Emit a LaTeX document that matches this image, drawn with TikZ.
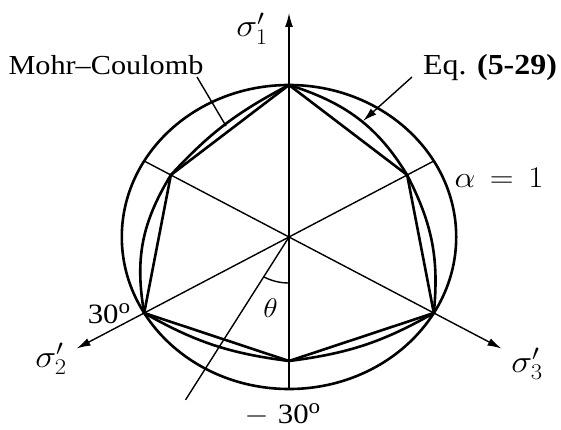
\RequirePackage{fix-cm}
\documentclass[tikz,border=0pt]{standalone}
\usepackage{fontspec}
\setmainfont{Liberation Serif}
\usetikzlibrary{arrows.meta}
\begin{document}
\begin{tikzpicture}[x=1pt,y=1pt,
  heavy/.style={line width=2.6pt, line join=round},
  axis/.style={line width=1.4pt},
  arr/.style={-{Latex[length=14pt,width=8pt]}},
  lbl/.style={inner sep=0pt, xscale=1.1}]
\useasboundingbox (0,0) rectangle (561,429);
\begin{scope}[shift={(289,192)}, xscale=1.1]
  \coordinate (O) at (0,0);
  % compression vertices
  \coordinate (C1) at (90:152);
  \coordinate (C2) at (210:152);
  \coordinate (C3) at (330:152);
  % tension vertices
  \coordinate (T1) at (30:124);
  \coordinate (T2) at (150:124);
  \coordinate (T3) at (270:124);
  % axis end points
  \coordinate (A1b) at (270:152);
  \coordinate (A1t) at (90:224);
  \coordinate (A2b) at (30:152);
  \coordinate (A2t) at (210:223);
  \coordinate (A3b) at (150:152);
  \coordinate (A3t) at (330:223);
  \coordinate (Th) at (240:188);
  \coordinate (ThA) at (270:46);
  % outer circle
  \draw[heavy] (O) circle[radius=152];
  % Mohr-Coulomb hexagon
  \draw[heavy] (C1) -- (T1) -- (C3) -- (T3) -- (C2) -- (T2) -- cycle;
  % Eq. (5-29) curve
  \draw[heavy] (C1) to[bend left=21] (T1) to[bend left=15] (C3)
    to[bend left=12] (T3) to[bend left=12] (C2)
    to[bend left=19] (T2) to[bend left=10] (C1);
  % axes
  \draw[axis, arr] (A1b) -- (A1t);
  \draw[axis, arr] (A2b) -- (A2t);
  \draw[axis, arr] (A3b) -- (A3t);
  \draw[axis] (O) -- (Th);
  \draw[axis] (ThA) arc[start angle=270, end angle=240, radius=46];
\end{scope}
% labels
\node[lbl, anchor=base] (s1) at (252,392) {\fontsize{32}{34}\selectfont$\sigma'_1$};
\node[lbl, anchor=base] (s2) at (51,62) {\fontsize{32}{34}\selectfont$\sigma'_2$};
\node[lbl, anchor=base] (s3) at (527,57) {\fontsize{32}{34}\selectfont$\sigma'_3$};
\node[lbl, anchor=base] (mc) at (106,354) {\fontsize{27.5}{30}\selectfont Mohr–Coulomb};
\node[lbl, anchor=base] (eq) at (490,354) {\fontsize{29}{31}\selectfont Eq. \textbf{(5-29)}};
\node[lbl, anchor=base] (al) at (499,242) {\fontsize{30}{32}\selectfont$\alpha\,=\,1$};
\node[lbl, anchor=base] (th) at (270.5,112) {\fontsize{27}{29}\selectfont$\theta$};
\node[lbl, anchor=base] (d30) at (109,106) {\fontsize{28}{30}\selectfont 30\raisebox{0.33em}{\fontsize{21}{21}\selectfont o}};
\node[lbl, anchor=base] (m30) at (282.5,6) {\fontsize{28}{30}\selectfont$-$\hspace{0.3em}30\raisebox{0.33em}{\fontsize{21}{21}\selectfont o}};
% pointers
\coordinate (mcA) at (197,352);
\coordinate (mcB) at (226,303);
\draw[axis] (mcA) -- (mcB);
\coordinate (eqA) at (412,352);
\coordinate (eqB) at (363,308);
\draw[axis, arr] (eqA) -- (eqB);
\end{tikzpicture}
\end{document}
